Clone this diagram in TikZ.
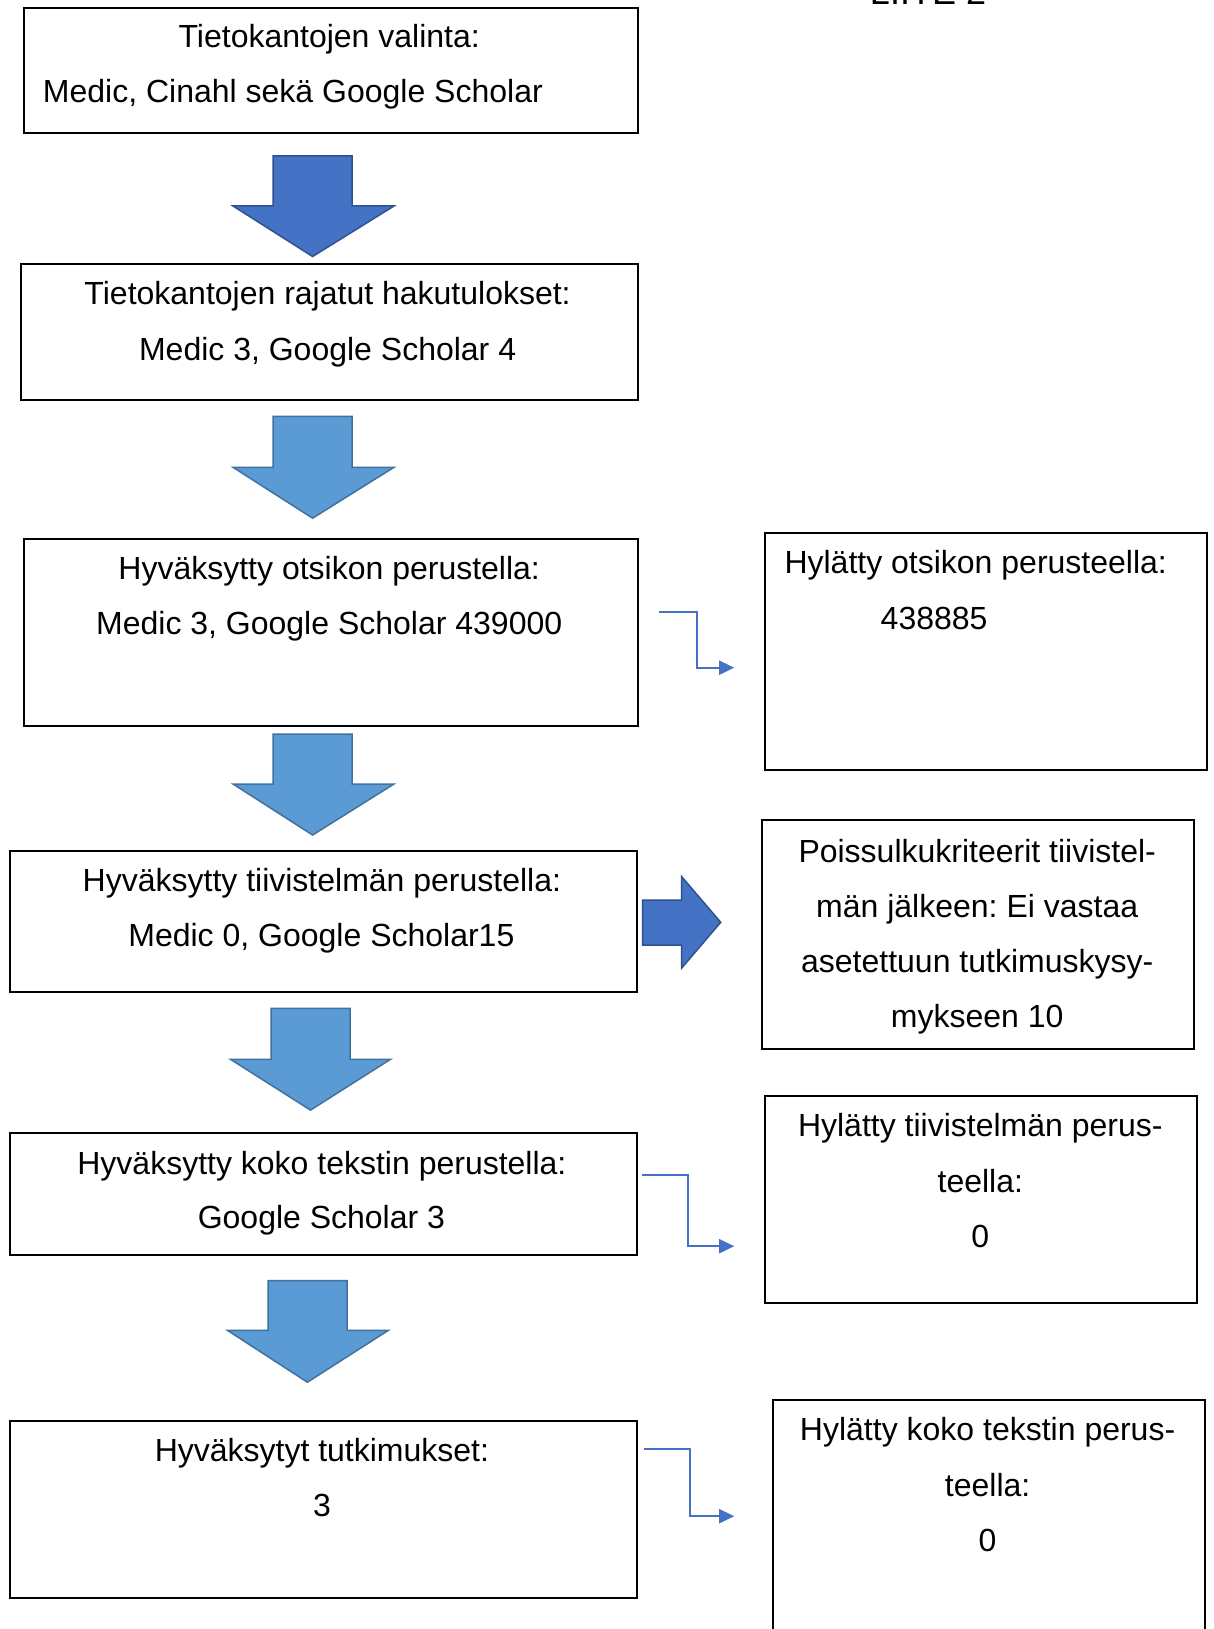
\documentclass[tikz,border=0pt]{standalone}
\usepackage{fontspec}
\setmainfont{Liberation Sans}
\usetikzlibrary{arrows.meta}
\definecolor{darkfill}{HTML}{4472C4}
\definecolor{darkline}{HTML}{2F528F}
\definecolor{lightfill}{HTML}{5B9BD5}
\definecolor{lightline}{HTML}{41719C}
\definecolor{connblue}{HTML}{4472C4}
\tikzset{
 box/.style={draw=black, line width=2pt, inner sep=0pt, anchor=north west},
 txt/.style={font=\fontsize{32}{38}\selectfont, inner sep=0pt, text height=23pt, text depth=0pt, anchor=center},
 darkarrow/.style={fill=darkfill, draw=darkline, line width=1.5pt},
 lightarrow/.style={fill=lightfill, draw=lightline, line width=1.5pt},
 conn/.style={draw=connblue, line width=2pt, -{Triangle[length=15pt,width=14pt]}},
}
\frenchspacing
\begin{document}
\begin{tikzpicture}[x=1pt,y=-1pt]
\clip (0,0) rectangle (1214,1629);
\fill[white] (0,0) rectangle (1214,1629);

% header (cut at top)
\node[txt, font=\fontsize{36}{40}\selectfont, anchor=base] (liite) at (928,5) {LIITE 2};

% left boxes
\node[box, minimum width=613.8pt, minimum height=124.6pt] (b1) at (22.8,7.3) {};
\node[box, minimum width=616.9pt, minimum height=136.1pt] (b2) at (19.7,262.7) {};
\node[box, minimum width=613.8pt, minimum height=187pt] (b3) at (22.8,537.9) {};
\node[box, minimum width=626.3pt, minimum height=141.2pt] (b4) at (9.3,849.5) {};
\node[box, minimum width=626.3pt, minimum height=121.5pt] (b5) at (9.3,1132) {};
\node[box, minimum width=626.3pt, minimum height=177.6pt] (b6) at (9.3,1419.6) {};

% right boxes
\node[box, minimum width=441.4pt, minimum height=236.8pt] (r1) at (764.3,531.7) {};
\node[box, minimum width=432.1pt, minimum height=228.5pt] (r2) at (761.2,819.4) {};
\node[box, minimum width=432.1pt, minimum height=207.7pt] (r3) at (764.3,1094.6) {};
\node[box, minimum width=432pt, minimum height=260pt] (r4) at (771.6,1398.9) {};

% texts
\node[txt] (t11) at (329.2,36.3) {Tietokantojen valinta:};
\node[txt] (t12) at (292.9,91.4) {Medic, Cinahl sekä Google Scholar};
\node[txt] (t21) at (327.6,292.9) {Tietokantojen rajatut hakutulokset:};
\node[txt] (t22) at (327.6,349) {Medic 3, Google Scholar 4};
\node[txt] (t31) at (329.2,568) {Hyväksytty otsikon perustella:};
\node[txt] (t32) at (329.2,623.1) {Medic 3, Google Scholar 439000};
\node[txt] (t41) at (321.9,879.6) {Hyväksytty tiivistelmän perustella:};
\node[txt] (t42) at (321.4,934.7) {Medic 0, Google Scholar15};
\node[txt] (t51) at (321.9,1163.1) {Hyväksytty koko tekstin perustella:};
\node[txt] (t52) at (321.4,1217.1) {Google Scholar 3};
\node[txt] (t61) at (321.9,1449.7) {Hyväksytyt tutkimukset:};
\node[txt] (t62) at (321.9,1504.8) {3};

\node[txt] (s11) at (975.7,561.8) {Hylätty otsikon perusteella:};
\node[txt] (s12) at (934.1,617.9) {438885};
\node[txt] (s21) at (977.2,850.5) {Poissulkukriteerit tiivistel-};
\node[txt] (s22) at (977.2,905.6) {män jälkeen: Ei vastaa};
\node[txt] (s23) at (977.2,960.6) {asetettuun tutkimuskysy-};
\node[txt] (s24) at (977.2,1015.6) {mykseen 10};
\node[txt] (s31) at (980.3,1124.7) {Hylätty tiivistelmän perus-};
\node[txt] (s32) at (980.3,1180.7) {teella:};
\node[txt] (s33) at (980.3,1235.8) {0};
\node[txt] (s41) at (987.6,1429) {Hylätty koko tekstin perus-};
\node[txt] (s42) at (987.6,1485) {teella:};
\node[txt] (s43) at (987.6,1540.1) {0};

% block arrows
\draw[darkarrow] (273,156) -- (352,156) -- (352,206) -- (394,206) -- (312.6,256.5) -- (233,206) -- (273,206) -- cycle;
\draw[lightarrow] (273,416.4) -- (352,416.4) -- (352,467.3) -- (394,467.3) -- (312.6,518.2) -- (233,467.3) -- (273,467.3) -- cycle;
\draw[lightarrow] (273,734.2) -- (352,734.2) -- (352,784) -- (394,784) -- (312.6,835) -- (233,784) -- (273,784) -- cycle;
\draw[lightarrow] (271,1008.4) -- (350,1008.4) -- (350,1059.3) -- (390.5,1059.3) -- (310.5,1110.1) -- (230.5,1059.3) -- (271,1059.3) -- cycle;
\draw[lightarrow] (268,1280.5) -- (347,1280.5) -- (347,1330.3) -- (388.4,1330.3) -- (307.4,1382.2) -- (227.4,1330.3) -- (268,1330.3) -- cycle;
\draw[darkarrow] (642.7,900) -- (681.7,900) -- (681.7,876.7) -- (720.7,922.3) -- (681.7,968) -- (681.7,945) -- (642.7,945) -- cycle;

% elbow connectors
\coordinate (c1a) at (659.4,611.7);
\coordinate (c1b) at (734.2,667.7);
\draw[conn] (c1a) -- (696.8,611.7) |- (c1b);
\coordinate (c2a) at (641.8,1174.6);
\coordinate (c2b) at (734.2,1246.2);
\draw[conn] (c2a) -- (687.5,1174.6) |- (c2b);
\coordinate (c3a) at (643.9,1448.7);
\coordinate (c3b) at (734.2,1516.2);
\draw[conn] (c3a) -- (689.6,1448.7) |- (c3b);
\end{tikzpicture}
\end{document}
